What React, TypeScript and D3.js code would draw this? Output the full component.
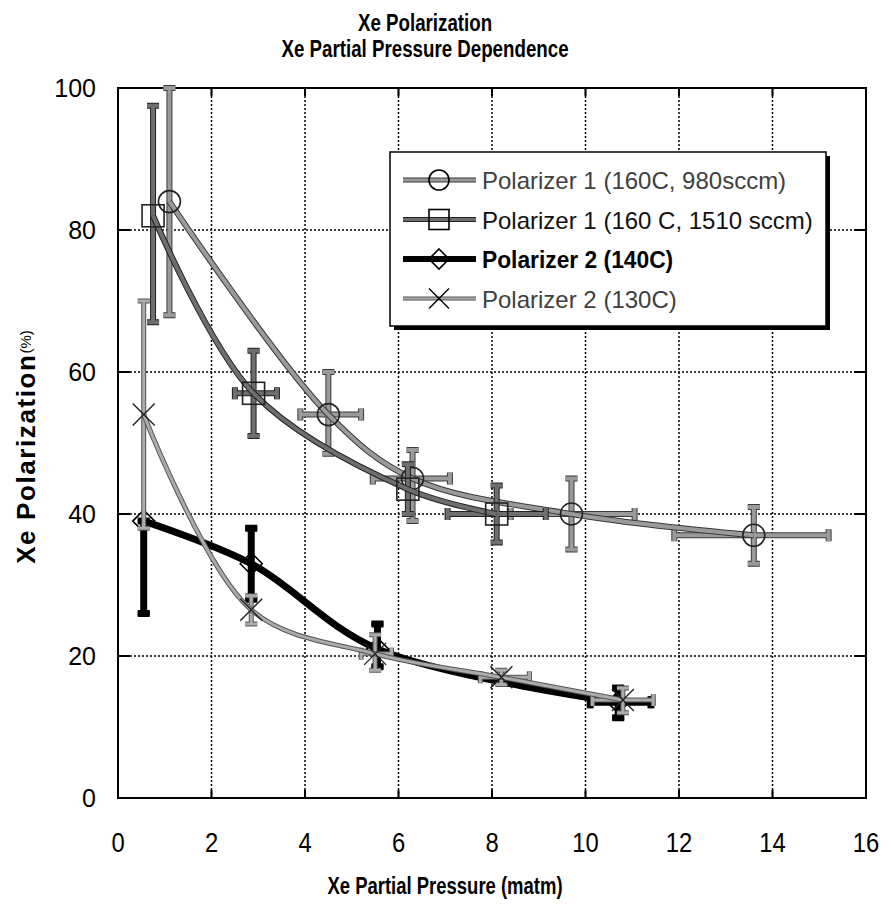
import React from "react";
import * as d3 from "d3";

// ---- data ----
const xTicks = [0, 2, 4, 6, 8, 10, 12, 14, 16];
const yTicks = [0, 20, 40, 60, 80, 100];

const seriesNames = [
  "Polarizer 1 (160C, 980sccm)",
  "Polarizer 1 (160 C, 1510 sccm)",
  "Polarizer 2 (140C)",
  "Polarizer 2 (130C)",
];

// Polarizer 1 (160C, 980sccm) - circles
const s1X = [1.1, 4.5, 6.3, 9.7, 13.6];
const s1Y = [84, 54, 45, 40, 37];
const s1YLo = [68, 48.5, 39, 35, 33];
const s1YHi = [100, 60, 49, 45, 41];
const s1XLo = [null, 3.9, 5.45, 8.4, 11.9];
const s1XHi = [null, 5.2, 7.1, 11.05, 15.2];

// Polarizer 1 (160 C, 1510 sccm) - squares
const s2X = [0.75, 2.9, 6.2, 8.1];
const s2Y = [82, 57, 43.5, 40];
const s2YLo = [67, 51, 40, 36];
const s2YHi = [97.5, 63, 47, 44];
const s2XLo = [null, 2.5, null, 7.05];
const s2XHi = [null, 3.4, null, 9.15];

// Polarizer 2 (140C) - diamonds
const s3X = [0.55, 2.85, 5.55, 10.7];
const s3Y = [39, 33, 21, 13.5];
const s3YLo = [26, 28, 18.5, 11.3];
const s3YHi = [39, 38, 24.5, 15.5];
const s3XLo = [null, null, null, 10.1];
const s3XHi = [null, null, null, 11.4];

// Polarizer 2 (130C) - crosses
const s4X = [0.55, 2.85, 5.5, 8.2, 10.8];
const s4Y = [54, 26.5, 20.3, 17, 13.8];
const s4YLo = [38, 24.5, 18, 16, 12];
const s4YHi = [70, 28.5, 23, 18, 15.5];
const s4XLo = [null, null, 5.2, 7.75, 10.15];
const s4XHi = [null, null, 5.85, 8.8, 11.45];

// ---- layout ----
const W = 891;
const H = 905;
const L = 118, R = 866, T = 88, B = 798;
const x = d3.scaleLinear().domain([0, 16]).range([L, R]);
const y = d3.scaleLinear().domain([0, 100]).range([B, T]);

type Style = { edge: string; fill: string; w: number; marker: string; text: string; bold: boolean };
const styles: Style[] = [
  { edge: "#3a3a3a", fill: "#9a9a9a", w: 4, marker: "circle", text: "#404040", bold: false },
  { edge: "#222", fill: "#6e6e6e", w: 4, marker: "square", text: "#111", bold: false },
  { edge: "#000", fill: "#000", w: 5, marker: "diamond", text: "#000", bold: true },
  { edge: "#555", fill: "#ababab", w: 3, marker: "cross", text: "#404040", bold: false },
];

const series = [
  { X: s1X, Y: s1Y, yl: s1YLo, yh: s1YHi, xl: s1XLo, xh: s1XHi },
  { X: s2X, Y: s2Y, yl: s2YLo, yh: s2YHi, xl: s2XLo, xh: s2XHi },
  { X: s3X, Y: s3Y, yl: s3YLo, yh: s3YHi, xl: s3XLo, xh: s3XHi },
  { X: s4X, Y: s4Y, yl: s4YLo, yh: s4YHi, xl: s4XLo, xh: s4XHi },
];

function Marker({ kind, cx, cy, color, r = 11 }: { kind: string; cx: number; cy: number; color: string; r?: number }) {
  if (kind === "circle") return <circle cx={cx} cy={cy} r={r} fill="none" stroke={color} strokeWidth={1.6} />;
  if (kind === "square") return <rect x={cx - r} y={cy - r} width={2 * r} height={2 * r} fill="none" stroke={color} strokeWidth={1.6} />;
  if (kind === "diamond")
    return <path d={`M${cx},${cy - r}L${cx + r},${cy}L${cx},${cy + r}L${cx - r},${cy}Z`} fill="none" stroke={color} strokeWidth={1.6} />;
  return (
    <path d={`M${cx - r},${cy - r}L${cx + r},${cy + r}M${cx + r},${cy - r}L${cx - r},${cy + r}`} fill="none" stroke={color} strokeWidth={1.4} />
  );
}

function ErrBars({ s, st }: { s: any; st: Style }) {
  const parts: string[] = [];
  const cap = 6;
  s.X.forEach((xv: number, i: number) => {
    const px = x(xv), py = y(s.Y[i]);
    const a = y(s.yl[i]), b = y(s.yh[i]);
    if (Math.abs(a - b) > 1) {
      parts.push(`M${px},${a}L${px},${b}`);
      parts.push(`M${px - cap},${a}L${px + cap},${a}`);
      parts.push(`M${px - cap},${b}L${px + cap},${b}`);
    }
    if (s.xl[i] != null) {
      const c = x(s.xl[i]), d = x(s.xh[i]);
      parts.push(`M${c},${py}L${d},${py}`);
      parts.push(`M${c},${py - cap}L${c},${py + cap}`);
      parts.push(`M${d},${py - cap}L${d},${py + cap}`);
    }
  });
  const d = parts.join("");
  return (
    <g>
      <path d={d} fill="none" stroke={st.edge} strokeWidth={st.w + 2} />
      <path d={d} fill="none" stroke={st.fill} strokeWidth={st.w} />
    </g>
  );
}

export default function App() {
  const line = d3
    .line<[number, number]>()
    .x((d) => x(d[0]))
    .y((d) => y(d[1]))
    .curve(d3.curveCatmullRom.alpha(0.5));

  const sans = "'Liberation Sans', Arial, sans-serif";

  const order = [0, 1, 2, 3];
  const legendX = 390, legendY = 152, legendW = 436, legendH = 174;

  return (
    <svg width={W} height={H} style={{ position: "absolute", left: 0, top: 0, background: "#fff" }}>
      <rect width={W} height={H} fill="#fff" />
      {/* title */}
      <g transform="translate(425,0) scale(0.78,1)">
        <text x={0} y={31} textAnchor="middle" fontFamily={sans} fontWeight={700} fontSize={24}>Xe Polarization</text>
        <text x={0} y={57} textAnchor="middle" fontFamily={sans} fontWeight={700} fontSize={24}>Xe Partial Pressure Dependence</text>
      </g>

      {/* grid */}
      {xTicks.slice(1, -1).map((t) => (
        <line key={"gx" + t} x1={x(t)} x2={x(t)} y1={T} y2={B} stroke="#000" strokeWidth={1.5} strokeDasharray="2,2" />
      ))}
      {yTicks.slice(1, -1).map((t) => (
        <line key={"gy" + t} x1={L} x2={R} y1={y(t)} y2={y(t)} stroke="#000" strokeWidth={1.5} strokeDasharray="2,2" />
      ))}
      {/* ticks inside */}
      {xTicks.slice(1, -1).map((t) => (
        <g key={"tx" + t}>
          <line x1={x(t)} x2={x(t)} y1={B} y2={B - 8} stroke="#000" strokeWidth={2} />
          <line x1={x(t)} x2={x(t)} y1={T} y2={T + 8} stroke="#000" strokeWidth={2} />
        </g>
      ))}
      {yTicks.slice(1, -1).map((t) => (
        <g key={"ty" + t}>
          <line x1={L} x2={L + 12} y1={y(t)} y2={y(t)} stroke="#000" strokeWidth={2} />
          <line x1={R} x2={R - 12} y1={y(t)} y2={y(t)} stroke="#000" strokeWidth={2} />
        </g>
      ))}
      <rect x={L} y={T} width={R - L} height={B - T} fill="none" stroke="#000" strokeWidth={2} />

      {/* tick labels */}
      {yTicks.map((t) => (
        <text key={"ly" + t} x={96} y={y(t) + 9} textAnchor="end" fontFamily={sans} fontSize={25}>{t}</text>
      ))}
      {xTicks.map((t) => (
        <g key={"lx" + t} transform={`translate(${x(t)},852) scale(0.85,1)`}>
          <text x={0} y={0} textAnchor="middle" fontFamily={sans} fontSize={28}>{t}</text>
        </g>
      ))}

      {/* axis titles */}
      <g transform="translate(445,894) scale(0.77,1)">
        <text x={0} y={0} textAnchor="middle" fontFamily={sans} fontWeight={700} fontSize={24}>Xe Partial Pressure (matm)</text>
      </g>
      <text transform="translate(35,447) rotate(-90)" textAnchor="middle" fontFamily={sans} fontWeight={700} fontSize={26} letterSpacing={1.6}>
        Xe Polarization<tspan fontSize={15} fontWeight={400} dy={-4} letterSpacing={0}>(%)</tspan>
      </text>

      {/* series */}
      {order.map((k) => {
        const s = series[k];
        const st = styles[k];
        const pts = s.X.map((v: number, i: number) => [v, s.Y[i]] as [number, number]);
        const d = line(pts) || "";
        return (
          <g key={"s" + k}>
            <ErrBars s={s} st={st} />
            <path d={d} fill="none" stroke={st.edge} strokeWidth={st.w + 2} />
            <path d={d} fill="none" stroke={st.fill} strokeWidth={st.w} />
            {s.X.map((v: number, i: number) => (
              <Marker key={i} kind={st.marker} cx={x(v)} cy={y(s.Y[i])} color={k === 2 ? "#000" : "#222"} />
            ))}
          </g>
        );
      })}

      {/* legend */}
      <rect x={legendX + 4} y={legendY + 4} width={legendW} height={legendH} fill="#000" />
      <rect x={legendX} y={legendY} width={legendW} height={legendH} fill="#fff" stroke="#000" strokeWidth={1.5} />
      {seriesNames.map((name, i) => {
        const st = styles[i];
        const cy = legendY + 28 + i * 39.5;
        return (
          <g key={"lg" + i}>
            <line x1={legendX + 13} x2={legendX + 86} y1={cy} y2={cy} stroke={st.edge} strokeWidth={st.w + 1} />
            <line x1={legendX + 13} x2={legendX + 86} y1={cy} y2={cy} stroke={st.fill} strokeWidth={st.w - 1} />
            <Marker kind={st.marker} cx={legendX + 49} cy={cy} color="#000" r={10} />
            <text x={legendX + 92} y={cy + 9} fontFamily={sans} fontSize={24} fill={st.text} fontWeight={st.bold ? 700 : 400}
              transform={st.bold ? `translate(${(legendX + 92) * 0.05},0) scale(0.95,1)` : undefined}>
              {name}
            </text>
          </g>
        );
      })}
    </svg>
  );
}
